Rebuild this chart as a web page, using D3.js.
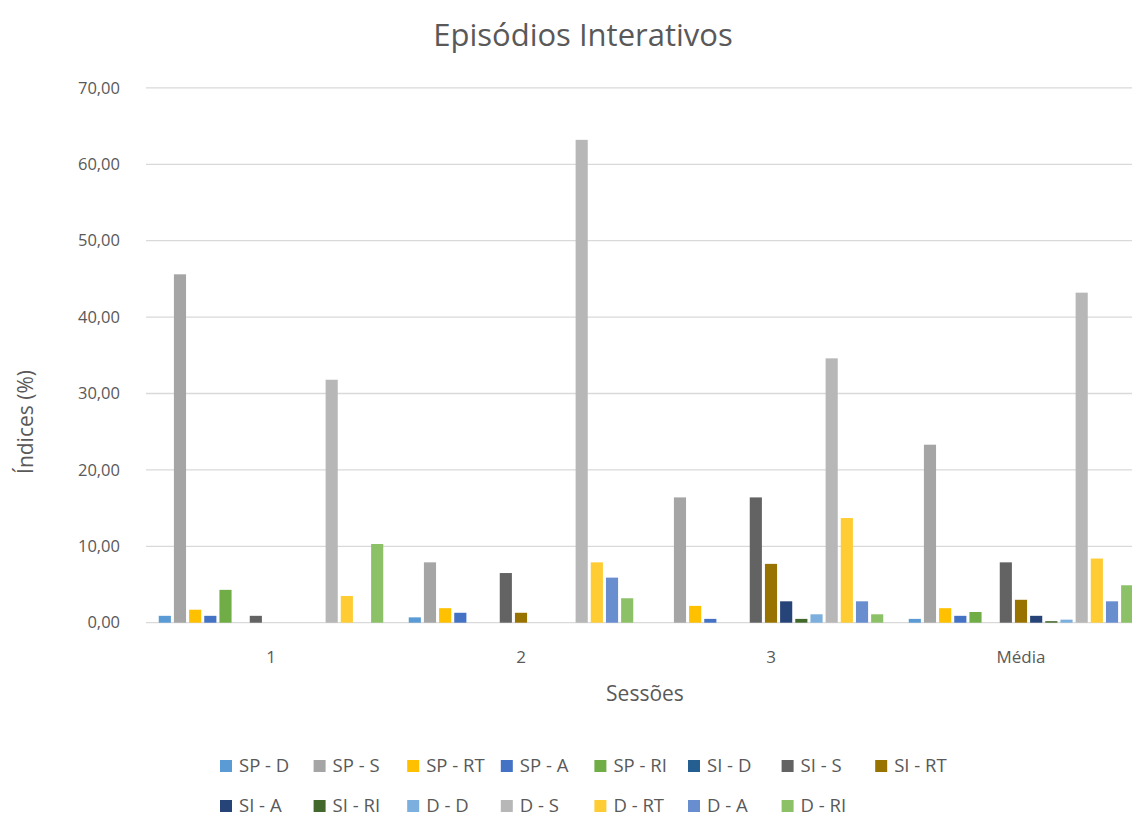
<!DOCTYPE html>
<html>
<head>
<meta charset="utf-8">
<script src="https://cdn.jsdelivr.net/npm/d3@7"></script>
<style>
  html, body { margin: 0; padding: 0; background: #fff; }
  svg { display: block; font-family: "Open Sans", "Noto Sans", sans-serif; }
</style>
</head>
<body>
<svg id="chart" width="1132" height="817"></svg>
<script>
// Sessions on the x axis
const categories = ["1", "2", "3", "Média"];

// Interaction episode types (one bar per type in each session)
const seriesNames = [
  "SP - D", "SP - S", "SP - RT", "SP - A", "SP - RI",
  "SI - D", "SI - S", "SI - RT", "SI - A", "SI - RI",
  "D - D", "D - S", "D - RT", "D - A", "D - RI"
];

const seriesColors = [
  "#5B9BD5", "#A5A5A5", "#FFC000", "#4472C4", "#70AD47",
  "#255E91", "#636363", "#997300", "#264478", "#43682B",
  "#7CAFDD", "#B7B7B7", "#FFCD33", "#698ED0", "#8CC168"
];

// Index values (%) per session, in the order of seriesNames
const session1 = [0.9, 45.6, 1.7, 0.9, 4.3, 0, 0.9, 0, 0, 0, 0, 31.8, 3.5, 0, 10.3];
const session2 = [0.7, 7.9, 1.9, 1.3, 0, 0, 6.5, 1.3, 0, 0, 0, 63.2, 7.9, 5.9, 3.2];
const session3 = [0, 16.4, 2.2, 0.5, 0, 0, 16.4, 7.7, 2.8, 0.5, 1.1, 34.6, 13.7, 2.8, 1.1];
const sessionMean = [0.5, 23.3, 1.9, 0.9, 1.4, 0, 7.9, 3.0, 0.9, 0.2, 0.4, 43.2, 8.4, 2.8, 4.9];

const yTicks = [0, 10, 20, 30, 40, 50, 60, 70];

const rows = [session1, session2, session3, sessionMean];

const svg = d3.select("#chart");
const textColor = "#595959";
const gridColor = "#D9D9D9";

const plot = { left: 146, right: 1146, top: 87.9, bottom: 622.7 };

const x0 = d3.scaleBand()
  .domain(categories)
  .range([plot.left, plot.right])
  .padding(0);

const x1 = d3.scaleBand()
  .domain(seriesNames)
  .range([0, x0.bandwidth()])
  .paddingInner(0.2)
  .paddingOuter(0.84);

const y = d3.scaleLinear()
  .domain([0, 70])
  .range([plot.bottom, plot.top]);

const fmt = v => d3.format(".2f")(v).replace(".", ",");

// Horizontal gridlines
svg.append("g")
  .selectAll("line")
  .data(yTicks)
  .join("line")
  .attr("x1", plot.left)
  .attr("x2", 1132)
  .attr("y1", d => y(d))
  .attr("y2", d => y(d))
  .attr("stroke", gridColor)
  .attr("stroke-width", 1.3);

// Y axis tick labels
const yAxis = d3.axisLeft(y).tickValues(yTicks).tickFormat(fmt).tickSize(0).tickPadding(26);
const gy = svg.append("g")
  .attr("transform", `translate(${plot.left},0)`)
  .call(yAxis);
gy.select(".domain").remove();
gy.selectAll("text")
  .attr("fill", textColor)
  .style("font-size", "16.5px")
  .style("font-family", "\"Open Sans\", sans-serif");

// X axis category labels
const xAxis = d3.axisBottom(x0).tickSize(0).tickPadding(28);
const gx = svg.append("g")
  .attr("transform", `translate(0,${plot.bottom})`)
  .call(xAxis);
gx.select(".domain").remove();
gx.selectAll("text")
  .attr("fill", textColor)
  .style("font-size", "17px")
  .style("font-family", "\"Open Sans\", sans-serif");

// Bars
const groups = svg.append("g")
  .selectAll("g")
  .data(categories.map((c, i) => ({ cat: c, vals: rows[i] })))
  .join("g")
  .attr("transform", d => `translate(${x0(d.cat)},0)`);

groups.selectAll("rect")
  .data(d => d.vals.map((v, j) => ({ name: seriesNames[j], value: v, color: seriesColors[j] })))
  .join("rect")
  .attr("x", d => x1(d.name))
  .attr("width", x1.bandwidth())
  .attr("y", d => y(d.value))
  .attr("height", d => y(0) - y(d.value))
  .attr("fill", d => d.color);

// Title
svg.append("text")
  .attr("x", 583)
  .attr("y", 46)
  .attr("text-anchor", "middle")
  .attr("fill", textColor)
  .style("font-size", "31px")
  .text("Episódios Interativos");

// Axis titles
svg.append("text")
  .attr("x", 645)
  .attr("y", 701)
  .attr("text-anchor", "middle")
  .attr("fill", textColor)
  .style("font-size", "21px")
  .text("Sessões");

svg.append("text")
  .attr("transform", "translate(33,422) rotate(-90)")
  .attr("text-anchor", "middle")
  .attr("fill", textColor)
  .style("font-size", "21px")
  .text("Índices (%)");

// Legend: two rows of fixed-width entries
const legendCols = 8;
const legendStepX = 93.6;
const legendX0 = 220;
const legendRowsY = [766, 806];

const legend = svg.append("g")
  .selectAll("g")
  .data(seriesNames.map((n, i) => ({ name: n, color: seriesColors[i], i })))
  .join("g")
  .attr("transform", d => `translate(${legendX0 + (d.i % legendCols) * legendStepX},${legendRowsY[Math.floor(d.i / legendCols)]})`);

legend.append("rect")
  .attr("x", 0)
  .attr("y", -6)
  .attr("width", 12)
  .attr("height", 12)
  .attr("fill", d => d.color);

legend.append("text")
  .attr("x", 19)
  .attr("y", 0)
  .attr("dy", "0.35em")
  .attr("fill", textColor)
  .style("font-size", "18.5px")
  .text(d => d.name);
</script>
</body>
</html>
